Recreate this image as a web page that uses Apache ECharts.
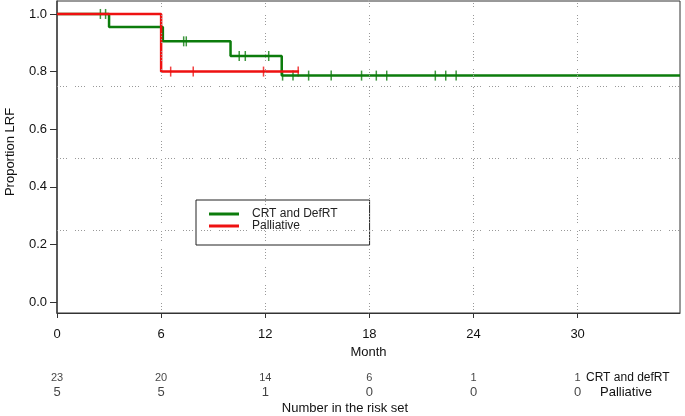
<!DOCTYPE html>
<html lang="en">
  <head>
    <meta charset="UTF-8" />
    <title>Proportion LRF</title>
    <script src="https://cdn.jsdelivr.net/npm/echarts@6/dist/echarts.min.js"></script>
    <style>
      html, body { margin: 0; padding: 0; background: #fff; }
      #box { width: 685px; height: 416px; }
    </style>
  </head>
  <body>
    <div id="box"></div>
    <script>
      // step curves (time in months, proportion LRF)
      var crtTimes = [0, 3.0, 6.1, 10.0, 12.95, 35.9];
      var crtValues = [1, 0.955, 0.905, 0.854, 0.786, 0.786];
      var palTimes = [0, 6.0, 13.95];
      var palValues = [1, 0.8, 0.8];
      // censored times
      var crtCensor = [2.5, 2.8, 7.3, 7.45, 10.5, 10.85, 12.2, 13.0, 13.6, 14.5, 15.8, 17.55, 18.4, 19.0, 21.8, 22.4, 23.0];
      var palCensor = [6.55, 7.85, 11.9, 13.9];
      // number at risk
      var riskTimes = [0, 6, 12, 18, 24, 30];
      var riskCrt = [23, 20, 14, 6, 1, 1];
      var riskPal = [5, 5, 1, 0, 0, 0];
      var refY = [0.25, 0.5, 0.75];
      var refX = [6, 12, 18, 24, 30];

      var FONT = "Liberation Sans";
      var GREEN = "#0c7c0c";
      var RED = "#ee1111";

      function pairs(t, v) {
        var out = [];
        for (var i = 0; i < t.length; i++) out.push([t[i], v[i]]);
        return out;
      }
      // survival value at time t from a step curve
      function valueAt(t, times, values) {
        var v = values[0];
        for (var i = 0; i < times.length; i++) {
          if (times[i] <= t) v = values[i];
        }
        return v;
      }
      function censorPts(cs, times, values) {
        return cs.map(function (t) { return [t, valueAt(t, times, values)]; });
      }

      var chart = echarts.init(document.getElementById("box"));

      var riskData = [];
      for (var i = 0; i < riskTimes.length; i++) {
        riskData.push({ value: [riskTimes[i], 1.5, riskCrt[i]], label: { fontSize: 11 } });
        riskData.push({ value: [riskTimes[i], 0.5, riskPal[i]], label: { fontSize: 13 } });
      }

      chart.setOption({
        animation: false,
        textStyle: { fontFamily: FONT },
        grid: [
          { left: 57, right: 5, top: 1, bottom: 103, show: true, borderColor: "#333", borderWidth: 1 },
          { left: 57, right: 5, top: 14, bottom: 114 },
          { left: 57, right: 5, top: 371, height: 28 }
        ],
        legend: {
          data: ["CRT and DefRT", "Palliative"],
          orient: "vertical",
          left: 196,
          top: 200,
          padding: [8, 32, 13, 13],
          itemGap: 0,
          itemWidth: 30,
          itemHeight: 3,
          icon: "rect",
          borderColor: "#222",
          borderWidth: 1,
          textStyle: { fontFamily: FONT, fontSize: 12, color: "#222", lineHeight: 10, padding: [0, 0, 0, 8] }
        },
        xAxis: [
          {
            gridIndex: 0, type: "value", min: 0, max: 35.9, interval: 6,
            name: "Month", nameLocation: "middle", nameGap: 32,
            nameTextStyle: { fontFamily: FONT, fontSize: 13, color: "#111" },
            axisLine: { onZero: false, lineStyle: { color: "#333", width: 1 } },
            axisTick: { length: 5, lineStyle: { color: "#333" } },
            axisLabel: {
              margin: 15, fontSize: 13, color: "#111", fontFamily: FONT, showMaxLabel: false,
              formatter: function (v) { return v % 6 === 0 ? String(v) : ""; }
            },
            splitLine: { show: false }
          },
          { gridIndex: 1, type: "value", min: 0, max: 35.9, show: false },
          { gridIndex: 2, type: "value", min: 0, max: 35.9, show: false }
        ],
        yAxis: [
          {
            gridIndex: 0, type: "value", min: -0.038, max: 1.045,
            axisLine: { show: true, onZero: false, lineStyle: { color: "#444", width: 1.5 } },
            axisTick: { show: false }, axisLabel: { show: false }, splitLine: { show: false }
          },
          {
            gridIndex: 1, type: "value", min: 0, max: 1, interval: 0.2,
            axisLine: { show: false },
            axisTick: { show: true, length: 7, lineStyle: { color: "#333" } },
            axisLabel: {
              margin: 10, fontSize: 13, color: "#111", fontFamily: FONT,
              formatter: function (v) { return v.toFixed(1); }
            },
            splitLine: { show: false }
          },
          { gridIndex: 2, type: "value", min: 0, max: 2, show: false }
        ],
        series: [
          {
            name: "refs", type: "line", data: [], xAxisIndex: 0, yAxisIndex: 0,
            markLine: {
              silent: true, symbol: "none", label: { show: false },
              lineStyle: { color: "#999", type: [1, 2, 1, 2, 1, 2, 1, 8], width: 1 },
              data: refY.map(function (y) { return { yAxis: y }; })
                .concat(refX.map(function (x) { return { xAxis: x }; }))
            }
          },
          {
            name: "CRT and DefRT", type: "line", step: "end", showSymbol: false,
            data: pairs(crtTimes, crtValues),
            lineStyle: { color: GREEN, width: 2.5 }, itemStyle: { color: GREEN }
          },
          {
            name: "Palliative", type: "line", step: "end", showSymbol: false,
            data: pairs(palTimes, palValues),
            lineStyle: { color: RED, width: 2.5 }, itemStyle: { color: RED }
          },
          {
            name: "crtCensor", type: "scatter", symbol: "rect", symbolSize: [1.5, 10],
            data: censorPts(crtCensor, crtTimes, crtValues), itemStyle: { color: GREEN }
          },
          {
            name: "palCensor", type: "scatter", symbol: "rect", symbolSize: [1.5, 10],
            data: censorPts(palCensor, palTimes, palValues), itemStyle: { color: RED }
          },
          {
            name: "risk", type: "scatter", xAxisIndex: 2, yAxisIndex: 2, symbolSize: 0,
            data: riskData,
            label: {
              show: true, position: "inside", color: "#111", fontFamily: FONT,
              formatter: function (p) { return String(p.value[2]); }
            }
          }
        ],
        graphic: [
          {
            type: "text", x: 10, y: 152, rotation: Math.PI / 2,
            style: { text: "Proportion LRF", fontFamily: FONT, fontSize: 13, fill: "#111", align: "center", verticalAlign: "middle" }
          },
          {
            type: "text", x: 586, y: 378,
            style: { text: "CRT and defRT", fontFamily: FONT, fontSize: 12, fill: "#111", align: "left", verticalAlign: "middle" }
          },
          {
            type: "text", x: 600, y: 392,
            style: { text: "Palliative", fontFamily: FONT, fontSize: 13, fill: "#111", align: "left", verticalAlign: "middle" }
          },
          {
            type: "text", x: 345, y: 408,
            style: { text: "Number in the risk set", fontFamily: FONT, fontSize: 13, fill: "#111", align: "center", verticalAlign: "middle" }
          }
        ]
      });
    </script>
  </body>
</html>
